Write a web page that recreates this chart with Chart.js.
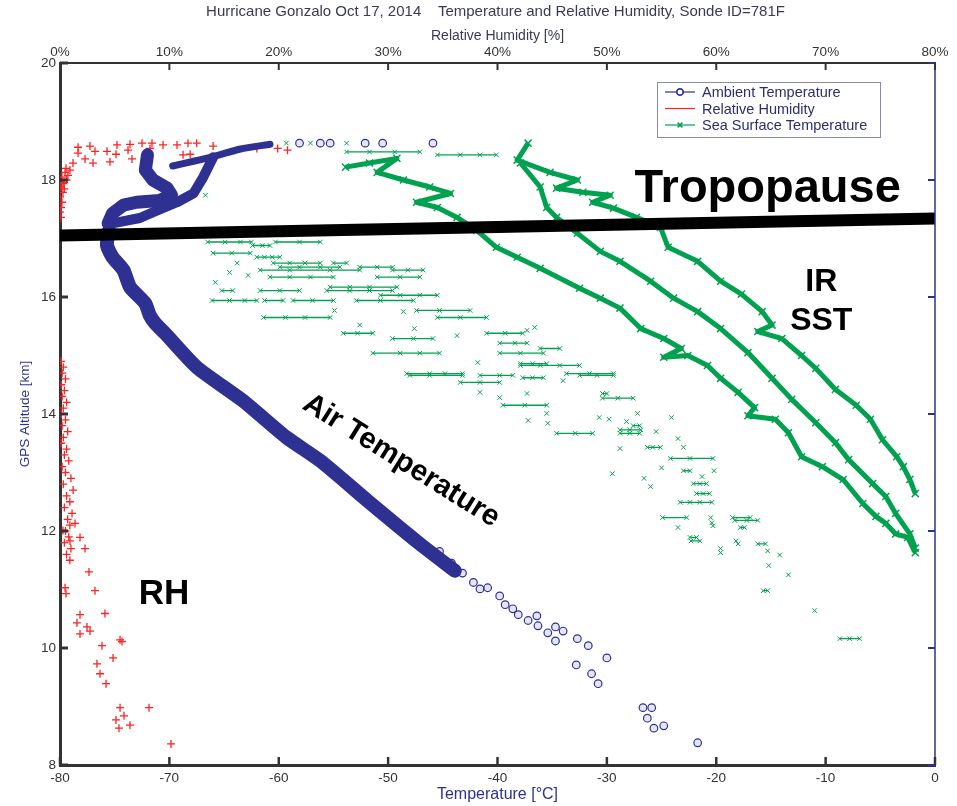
<!DOCTYPE html>
<html>
<head>
<meta charset="utf-8">
<title>Hurricane Gonzalo sonde 781F</title>
<script src="https://cdn.jsdelivr.net/npm/chart.js@4.4.0/dist/chart.umd.min.js"></script>
<style>
html, body { margin: 0; padding: 0; background: #fff; }
#wrap { width: 957px; height: 806px; }
</style>
</head>
<body>
<div id="wrap"><canvas id="myChart"></canvas></div>
<script>
// ---- data ----
// temperature profile points, [temperature degC, altitude km]
var tempTopArm = [[-60.8,18.61],[-63.5,18.53],[-65.8,18.41],[-67.8,18.32],[-69.7,18.24]];
var tempArmA = [[-66.0,18.39],[-66.9,18.05],[-67.8,17.77],[-69.3,17.62],[-71.1,17.48],[-72.7,17.35],[-75.2,17.26],[-75.6,17.11]];
var tempArmB = [[-72.0,18.43],[-72.2,18.17],[-71.5,18.0],[-70.2,17.86],[-69.8,17.74],[-70.9,17.65],[-73.0,17.62],[-74.2,17.57],[-75.2,17.43],[-75.6,17.26]];
var tempLower = [[-75.6,17.11],[-75.7,16.88],[-75.2,16.68],[-74.2,16.46],[-73.6,16.17],[-72.2,15.89],[-71.8,15.69],[-71.3,15.55],[-70.4,15.38],
	[-67.5,14.80],[-63.3,14.23],[-59.3,13.60],[-56.2,13.20],[-51.9,12.52],[-47.1,11.78],[-43.9,11.32]];
var tempSparse = [[-45.3,11.65],[-44.2,11.45],[-43.2,11.28],[-42.2,11.12],[-41.6,11.01],[-40.9,11.03],[-39.8,10.89],[-39.3,10.74],[-38.6,10.67],
	[-38.1,10.57],[-37.2,10.47],[-36.4,10.55],[-36.3,10.38],[-35.4,10.26],[-34.7,10.36],[-34.0,10.29],[-34.7,10.12],[-32.7,10.16],[-31.7,10.04],
	[-30.0,9.83],[-32.8,9.71],[-31.4,9.56],[-30.8,9.39],[-26.7,8.98],[-25.9,8.98],[-26.3,8.80],[-25.7,8.63],[-24.8,8.67],[-21.7,8.38],
	[-58.1,18.63],[-56.2,18.63],[-55.3,18.63],[-52.1,18.63],[-50.5,18.63],[-45.9,18.63]];

// relative humidity, [RH %, altitude km]
var rhTop = [[1.65,18.56],[2.74,18.58],[3.2,18.49],[4.3,18.49],[5.21,18.60],[5.12,18.44],[6.4,18.61],[6.22,18.51],[6.58,18.36],[7.5,18.63],
	[8.41,18.63],[8.23,18.54],[4.57,18.31],[3.02,18.29],[2.29,18.36],[1.65,18.46],[1.19,18.29],[0.91,18.17],[9.42,18.60],[10.7,18.60],
	[11.7,18.63],[12.5,18.63],[14.0,18.58],[11.25,18.43],[11.9,18.44],[18.0,18.54],[19.9,18.54],[20.8,18.51],[14.0,18.37]];
var rhUpperColumn = [[0.46,18.13],[0.18,18.05],[0.37,17.96],[0.09,17.88],[0.27,17.79],[0,17.71],[0.18,17.62],[0.09,17.53],[0,17.45],
	[0.09,17.36],[0.55,18.2],[0.73,18.08],[0.27,17.94],[0.6,18.0],[0.4,17.85]];
var rhColumn = [[0.1,14.9],[0.3,14.8],[0.2,14.7],[0.5,14.6],[0.1,14.5],[0.4,14.4],[0.2,14.3],[0.6,14.2],[0.3,14.1],[0.1,14.0],[0.5,13.9],
	[0.2,13.8],[0.7,13.7],[0.3,13.6],[0.1,13.5],[0.6,13.4],[0.4,13.3],[0.8,13.2],[0.2,13.1],[0.5,13.0],[1.0,12.9],[0.3,12.8],[1.2,12.7],
	[0.6,12.6],[0.9,12.5],[0.4,12.4],[1.1,12.3],[0.7,12.2],[0.9,12.1],[0.5,12.0],[0.8,11.9],[0.4,11.8],[1.0,11.7],[0.6,11.6],[0.9,11.5]];
var rhLower = [[0.27,12.01],[1.37,12.13],[0.91,11.83],[1.83,11.89],[2.29,11.70],[2.65,11.30],[3.2,10.98],[0.46,11.03],[0.55,10.93],
	[4.11,10.59],[1.83,10.57],[1.55,10.43],[2.47,10.36],[2.74,10.29],[1.83,10.24],[5.49,10.14],[5.67,10.11],[3.84,10.04],[4.85,9.83],
	[3.38,9.73],[3.66,9.56],[4.21,9.39],[8.14,8.98],[5.49,8.98],[5.85,8.84],[5.12,8.77],[6.4,8.68],[5.39,8.63],[10.15,8.36]];

// sea surface temperature traces, [degC, km]
var sstIR = [[-37.2,18.63],[-38.2,18.34],[-35.2,18.13],[-32.7,18.0],[-34.6,17.86],[-32.2,17.79],[-29.7,17.74],[-31.3,17.62],[-29.4,17.52],
	[-27.3,17.36],[-25.1,17.19],[-24.4,16.85],[-21.7,16.61],[-19.6,16.27],[-17.7,16.05],[-15.8,15.75],[-14.9,15.52],[-16.2,15.41],
	[-14.0,15.29],[-12.2,15.0],[-10.9,14.78],[-9.1,14.42],[-7.2,14.15],[-5.9,13.91],[-4.8,13.56],[-3.5,13.27],[-2.9,13.10],[-2.3,12.88],[-1.8,12.64]];
var sstMid = [[-37.9,18.29],[-36.1,17.88],[-35.5,17.53],[-34.6,17.36],[-32.7,17.09],[-30.6,16.78],[-28.8,16.61],[-26.0,16.27],[-23.9,15.98],
	[-21.7,15.75],[-19.6,15.46],[-17.1,15.05],[-14.9,14.61],[-13.1,14.25],[-10.9,13.85],[-9.1,13.51],[-7.9,13.22],[-5.7,12.81],[-4.5,12.59],
	[-3.6,12.30],[-2.3,11.95],[-1.8,11.71]];
var sstLow = [[-53.9,18.22],[-51.7,18.29],[-49.2,18.37],[-51.0,18.13],[-48.6,18.0],[-46.2,17.88],[-44.3,17.77],[-47.4,17.62],[-45.5,17.53],
	[-43.7,17.36],[-41.9,17.14],[-40.1,16.85],[-38.2,16.68],[-36.1,16.49],[-32.5,16.15],[-30.6,15.98],[-28.8,15.81],[-26.9,15.46],[-24.8,15.29],
	[-23.2,15.12],[-24.8,14.97],[-22.6,15.0],[-20.8,14.83],[-19.6,14.61],[-18.0,14.37],[-16.5,14.11],[-17.1,13.97],[-14.6,13.91],[-13.4,13.68],
	[-12.2,13.27],[-10.3,13.10],[-8.4,12.88],[-6.6,12.47],[-5.4,12.25],[-4.5,12.13],[-3.6,11.95],[-2.5,11.89],[-1.8,11.63]];
// short level runs: [altitude, temperatures...]
var sstRows = [
	[16.94,-66.5,-64.9,-63.5,-62.5],[16.94,-60.3,-58.1,-56.2],[16.88,-62.4,-61.5,-60.8],[16.75,-66.0,-64.3,-62.6],
	[16.68,-62.0,-61.3,-60.6,-59.9],[16.58,-60.5,-59.0,-57.6,-56.2],[16.58,-55.0,-53.8],[16.51,-59.9,-58.1,-56.2,-54.4],
	[16.51,-52.6,-51.0,-49.6],[16.46,-61.7,-59.0,-55.3,-52.6],[16.46,-49.6,-48.2,-46.8],[16.34,-60.8,-59.0,-57.1,-55.0],
	[16.34,-51.0,-48.9,-47.1],[16.17,-55.3,-53.5,-51.7,-49.2],[16.11,-65.2,-64.2],[16.11,-61.7,-59.9,-58.1],
	[16.11,-55.6,-53.5,-51.7,-49.6],[16.03,-50.7,-48.9,-47.1,-45.5],[15.94,-66.1,-64.5,-63.1,-62.0],[15.94,-61.3,-59.6],
	[15.94,-58.7,-56.9,-55.0],[15.94,-52.9,-50.7,-47.7],[15.77,-47.4,-45.3,-42.5],[15.65,-61.4,-59.4,-57.6,-55.3],
	[15.65,-45.5,-43.4,-41.0],[15.38,-54.1,-52.8,-51.4],[15.38,-41.0,-39.3,-37.7],[15.29,-49.6,-47.7,-45.9],
	[15.21,-39.8,-38.4,-37.3],[15.04,-51.4,-48.9,-47.1,-45.3],[15.04,-39.8,-37.9,-35.8],[15.12,-36.1,-34.3],
	[14.83,-37.9,-36.1,-34.3,-32.5],[14.66,-48.0,-46.2,-43.2],[14.66,-41.6,-39.8,-38.6],[14.54,-43.4,-41.6,-39.8],
	[14.62,-37.7,-36.8,-35.8],[14.15,-39.5,-37.5,-35.5],[14.86,-37.9,-36.8,-35.5],[14.69,-48.3,-46.2,-44.8,-43.2],
	[14.69,-33.7,-31.6,-29.4],[14.35,-30.4,-30.0],[14.27,-30.4,-29.0,-27.6],[13.80,-27.6,-27.0],[13.67,-34.6,-32.9,-31.3],
	[13.67,-28.8,-27.9,-27.0],[13.43,-26.3,-25.8,-25.1],[13.24,-24.2,-22.4,-20.3],[13.03,-23.0,-22.4],[12.81,-22.1,-21.5,-20.9],
	[12.64,-21.8,-21.2,-20.6],[12.49,-23.3,-22.4,-21.5,-20.4],[12.23,-24.9,-22.7],[12.23,-18.5,-16.9],[11.89,-22.4,-21.8],
	[14.66,-32.5,-30.9,-29.4],[13.73,-28.8,-27.9,-26.9],[12.18,-18.3,-17.2,-16.2],[12.06,-17.8,-17.4],[11.83,-22.3,-21.5],
	[11.78,-16.2,-15.5],[10.98,-15.7,-15.3],[10.16,-8.7,-7.8,-6.9],[18.48,-53.8,-51.7,-49.4,-47.1],[18.43,-45.5,-43.4,-41.6,-40.1]
];
var sstSingles = [[-59.3,18.63],[-57.1,18.63],[-53.8,18.63],[-66.7,17.74],[-65.8,16.25],[-64.5,16.42],[-62.8,16.37],[-63.8,16.58],
	[-54.9,15.77],[-52.6,15.52],[-48.6,15.75],[-47.6,15.46],[-43.7,15.34],[-37.3,15.43],[-36.6,15.48],[-41.8,14.88],[-34.0,14.57],
	[-41.6,14.37],[-39.8,14.28],[-37.3,14.35],[-35.5,14.01],[-35.4,13.84],[-37.2,13.89],[-30.7,13.94],[-29.8,13.91],[-28.2,13.87],
	[-27.2,14.01],[-24.1,13.94],[-25.5,13.70],[-23.5,13.58],[-23.0,13.43],[-25.0,13.08],[-21.3,12.93],[-20.2,13.03],[-26.6,12.90],
	[-26.0,12.76],[-20.5,12.23],[-20.4,12.14],[-18.2,11.83],[-19.6,11.70],[-28.8,13.41],[-29.5,12.98],[-23.5,12.06],[-20.3,12.09],
	[-18.0,11.78],[-19.6,11.63],[-15.3,11.66],[-14.2,11.59],[-15.2,11.41],[-13.4,11.25],[-11.0,10.64]];

// tropopause line ends
var tropoT = [-80, 0];
var tropoAlt = [17.05, 17.34];

// text notes on the plot
var noteText = ['Tropopause', 'IR', 'SST', 'RH', 'Air Temperature'];
var noteT = [-15.3, -10.4, -10.4, -70.5, -48.8];
var noteAlt = [17.62, 16.10, 15.43, 10.76, 13.20];

var blue = '#2e3192';
var green = '#00a14f';
var red = '#ff2222';
var fontFam = '"Liberation Sans", Arial, sans-serif';
var mainTitle = 'Hurricane Gonzalo Oct 17, 2014    Temperature and Relative Humidity, Sonde ID=781F';

function pts(arr){
	return arr.map(function(p){ return {x: p[0], y: p[1]}; });
}

function rowPts(rows){
	var out = [];
	rows.forEach(function(r){
		for (var i = 1; i < r.length; i++) out.push({x: r[i], y: r[0]});
		out.push({x: r[1], y: null});
	});
	return out;
}

function bandSet(arr, w, tens){
	return {data: pts(arr), showLine: true, borderColor: blue, borderWidth: w, pointRadius: 0,
		borderJoinStyle: 'round', borderCapStyle: 'round', tension: tens};
}

function sstSet(arr){
	return {data: pts(arr), showLine: true, borderColor: green, borderWidth: 5, borderJoinStyle: 'round',
		pointStyle: 'crossRot', pointRadius: 5, pointBorderColor: green, pointBorderWidth: 1.5};
}

var datasets = [
	{label: 'Tropopause', data: pts([[tropoT[0], tropoAlt[0]], [tropoT[1], tropoAlt[1]]]), showLine: true,
		borderColor: '#000', borderWidth: 12, pointRadius: 0},
	bandSet(tempTopArm, 7, 0.2),
	bandSet(tempArmA, 10, 0),
	bandSet(tempArmB, 13, 0),
	bandSet(tempLower, 14, 0.2),
	{label: 'Ambient Temperature', legendStyle: 'circle', legendColor: blue, data: pts(tempSparse), pointStyle: 'circle',
		pointRadius: 3.8, borderColor: blue, backgroundColor: 'rgba(46,49,146,0.12)', borderWidth: 1.2},
	{label: 'Relative Humidity', legendStyle: 'none', legendColor: red, xAxisID: 'x2',
		data: pts(rhTop.concat(rhUpperColumn, rhColumn, rhLower)), pointStyle: 'cross', pointRadius: 4,
		borderColor: red, borderWidth: 1.3},
	sstSet(sstIR),
	sstSet(sstMid),
	sstSet(sstLow),
	{data: rowPts(sstRows), showLine: true, borderColor: green, borderWidth: 1.3, pointStyle: 'crossRot',
		pointRadius: 3.2, pointBorderColor: green, pointBorderWidth: 1},
	{label: 'Sea Surface Temperature', legendStyle: 'crossRot', legendColor: green, data: pts(sstSingles),
		pointStyle: 'crossRot', pointRadius: 3.2, borderColor: green, borderWidth: 1}
];

var decor = {
	id: 'decor',
	afterDatasetsDraw: function(chart){
		var ctx = chart.ctx, a = chart.chartArea, sx = chart.scales.x, sy = chart.scales.y;
		ctx.save();
		// main title
		ctx.fillStyle = '#3a3a55';
		ctx.font = '15px ' + fontFam;
		ctx.textAlign = 'center'; ctx.textBaseline = 'middle';
		ctx.fillText(mainTitle, (a.left + a.right) / 2 - 2, 12);
		// right frame
		ctx.strokeStyle = blue; ctx.lineWidth = 1.5;
		ctx.beginPath(); ctx.moveTo(a.right, a.top); ctx.lineTo(a.right, a.bottom); ctx.stroke();
		// inward tick marks
		ctx.strokeStyle = '#333';
		sx.ticks.forEach(function(t){
			var px = sx.getPixelForValue(t.value);
			ctx.lineWidth = 2.5;
			ctx.beginPath(); ctx.moveTo(px, a.bottom); ctx.lineTo(px, a.bottom - 8); ctx.stroke();
			ctx.lineWidth = 2;
			ctx.beginPath(); ctx.moveTo(px, a.top); ctx.lineTo(px, a.top + 7); ctx.stroke();
		});
		sy.ticks.forEach(function(t){
			var py = sy.getPixelForValue(t.value);
			ctx.strokeStyle = '#333'; ctx.lineWidth = 3;
			ctx.beginPath(); ctx.moveTo(a.left, py); ctx.lineTo(a.left + 8, py); ctx.stroke();
			ctx.strokeStyle = blue; ctx.lineWidth = 2;
			ctx.beginPath(); ctx.moveTo(a.right, py); ctx.lineTo(a.right - 7, py); ctx.stroke();
		});
		// notes
		ctx.fillStyle = '#000';
		var sizes = [47, 32, 32, 35, 29.5];
		for (var i = 0; i < noteText.length; i++) {
			var nx = sx.getPixelForValue(noteT[i]), ny = sy.getPixelForValue(noteAlt[i]);
			ctx.font = 'bold ' + sizes[i] + 'px ' + fontFam;
			ctx.textAlign = 'center';
			if (noteText[i] === 'Air Temperature') {
				ctx.save();
				ctx.translate(nx, ny);
				ctx.rotate(32 * Math.PI / 180);
				ctx.textBaseline = 'middle';
				ctx.fillText(noteText[i], 0, 0);
				ctx.restore();
			} else {
				ctx.textBaseline = 'alphabetic';
				ctx.fillText(noteText[i], nx, ny);
			}
		}
		// legend box
		var x0 = a.right - 278, y0 = a.top + 19;
		ctx.fillStyle = '#fff';
		ctx.fillRect(x0, y0, 223, 55);
		ctx.strokeStyle = '#8a8aa0'; ctx.lineWidth = 1;
		ctx.strokeRect(x0 + 0.5, y0 + 0.5, 223, 55);
		var items = chart.data.datasets.filter(function(d){ return d.legendStyle; });
		ctx.font = '14.5px ' + fontFam;
		ctx.textAlign = 'left'; ctx.textBaseline = 'middle';
		items.forEach(function(d, k){
			var ly = y0 + 10 + k * 16.5;
			ctx.strokeStyle = d.legendColor; ctx.lineWidth = 1.2;
			ctx.beginPath(); ctx.moveTo(x0 + 8, ly); ctx.lineTo(x0 + 38, ly); ctx.stroke();
			if (d.legendStyle !== 'none') {
				Chart.helpers.drawPoint(ctx, {pointStyle: d.legendStyle, radius: 3.2, borderWidth: 1.2}, x0 + 23, ly);
				ctx.stroke();
			}
			ctx.fillStyle = '#2b2e6e';
			ctx.fillText(d.label, x0 + 45, ly + 1);
		});
		ctx.restore();
	}
};

Chart.defaults.font.family = fontFam;

var ctx = document.getElementById('myChart').getContext('2d');
var chart = new Chart(ctx, {
	type: 'scatter',
	data: {datasets: datasets},
	options: {
		responsive: true,
		maintainAspectRatio: false,
		animation: false,
		layout: {padding: {left: 0, right: 22, top: 0, bottom: 0}},
		plugins: {
			legend: {display: false},
			tooltip: {enabled: false}
		},
		scales: {
			x: {
				type: 'linear', position: 'bottom', min: -80, max: 0,
				ticks: {stepSize: 10, color: '#333', font: {size: 13.5}, padding: 5, maxRotation: 0},
				grid: {display: false, drawTicks: false},
				border: {display: true, color: '#333', width: 3},
				title: {display: true, text: 'Temperature [°C]', color: blue, font: {size: 16}, padding: {top: 0, bottom: 2}},
				afterFit: function(s){ s.height = 41; }
			},
			x2: {
				type: 'linear', position: 'top', min: 0, max: 80,
				ticks: {stepSize: 10, color: '#333', font: {size: 13.5}, padding: 3, maxRotation: 0,
					callback: function(v){ return v + '%'; }},
				grid: {display: false, drawTicks: false},
				border: {display: true, color: '#333', width: 2},
				title: {display: true, text: 'Relative Humidity [%]', color: '#3a3a55', font: {size: 14}, padding: {top: 27.5, bottom: 0}},
				afterFit: function(s){ s.height = 63; }
			},
			y: {
				type: 'linear', position: 'left', min: 8, max: 20,
				ticks: {stepSize: 2, color: '#333', font: {size: 13.5}, padding: 4},
				grid: {display: false, drawTicks: false},
				border: {display: true, color: '#333', width: 3},
				title: {display: true, text: 'GPS Altitude [km]', color: blue, font: {size: 13.5}, padding: {top: 17, bottom: 0}},
				afterFit: function(s){ s.width = 60; }
			}
		}
	},
	plugins: [decor]
});
</script>
</body>
</html>
